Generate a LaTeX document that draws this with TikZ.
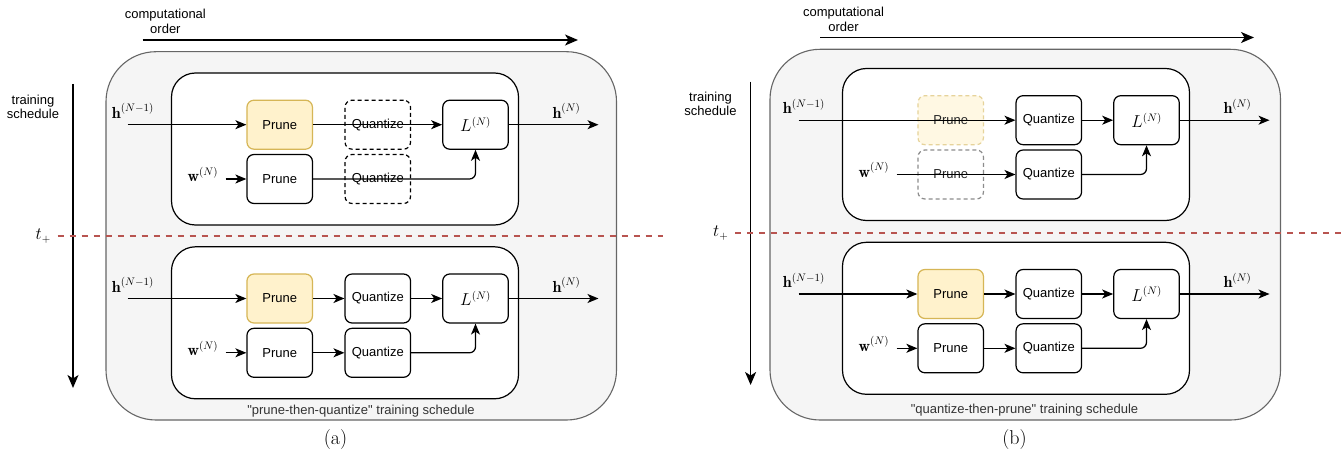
\documentclass[tikz,border=0pt]{standalone}
\usepackage{fontspec}
\newfontfamily\sfont{Liberation Sans}[Ligatures=TeXOff]
\usetikzlibrary{arrows.meta}
\definecolor{outerfill}{HTML}{F5F5F5}
\definecolor{outerdraw}{HTML}{666666}
\definecolor{yfill}{HTML}{FFF2CC}
\definecolor{ydraw}{HTML}{D6B656}
\definecolor{tred}{HTML}{B85450}
\definecolor{capgray}{HTML}{333333}
\begin{document}
\begin{tikzpicture}[x=1pt,y=-1pt,
  tipstyle/.style={-{Stealth[length=11pt,width=9pt,inset=3pt]}},
  conn/.style={line width=1.25pt, tipstyle},
  bigarrow/.style={line width=1.5pt, -{Stealth[length=13pt,width=11pt,inset=3.5pt]}},
  box/.style={font=\sfont\fontsize{13}{15}\selectfont, draw, line width=1.2pt, rounded corners=7pt, minimum width=65.5pt, minimum height=49pt, inner sep=0pt, fill=white},
  yel/.style={fill=yfill, draw=ydraw},
  qdash/.style={dash pattern=on 4pt off 3pt},
  ydash/.style={fill=yfill!55!white, draw=ydraw!60!white, dash pattern=on 4pt off 3pt, text=black!85},
  gdash/.style={draw=black!45, dash pattern=on 4pt off 3pt, text=black!85},
  lbox/.style={box, font=\fontsize{16}{19}\selectfont},
  framebox/.style={draw, line width=1.2pt, rounded corners=24pt, fill=white, minimum width=347pt, minimum height=152pt, inner sep=0pt},
  outerbox/.style={draw=outerdraw, line width=1.1pt, fill=outerfill, rounded corners=50pt, minimum width=510.5pt, inner sep=0pt},
  mlab/.style={inner sep=0pt, font=\fontsize{16}{19}\selectfont},
  slab/.style={inner sep=0pt, align=center, font=\sfont\fontsize{13}{14.5}\selectfont},
  tdash/.style={draw=tred, line width=2pt, dash pattern=on 6pt off 6pt},
  captext/.style={inner sep=0pt, font=\sfont\fontsize{13}{15}\selectfont, text=capgray},
  sublab/.style={inner sep=0pt, font=\fontsize{20}{24}\selectfont},
]
\useasboundingbox (0,0) rectangle (1343,454);

% ---------- outer panels ----------
\node[outerbox, minimum height=368.3pt] (aOut) at (361.25,235.85) {};
\node[outerbox, minimum height=370.7pt] (bOut) at (1025.25,234.65) {};

% ---------- panel (a), first block ----------
\begin{scope}[name prefix=aT-]
  \node[framebox] (frame) at (345,149) {};
  \node[box,yel] (p1) at (279.7,124.7) {Prune};
  \node[box,qdash] (q1) at (377.8,124.7) {Quantize};
  \node[lbox] (L) at (475.5,124.7) {$L^{(N)}$};
  \node[box] (p2) at (279.7,179) {Prune};
  \node[box,qdash] (q2) at (377.8,179) {Quantize};
  \coordinate (hsrc) at (127.7,124.7);
  \coordinate (hdst) at (598.5,124.7);
  \coordinate (wsrc) at (225.7,179);
  \node[mlab,anchor=base west] (hin) at (111.7,118.2) {$\mathbf{h}^{(N-1)}$};
  \node[mlab,anchor=base] (hout) at (566.5,118.2) {$\mathbf{h}^{(N)}$};
  \node[mlab,anchor=base east] (w) at (218.3,181.7) {$\mathbf{w}^{(N)}$};
  \draw[conn] (hsrc) -- (p1);
  \draw[conn] (p1) -- (L);
  \draw[conn] (L) -- (hdst);
  \draw[conn] (wsrc) -- (p2);
  \draw[conn, rounded corners=6pt] (p2.east) -- (L.south |- p2.east) -- (L.south);
\end{scope}

% ---------- panel (a), second block ----------
\begin{scope}[shift={(0,173.8)}, name prefix=aB-]
  \node[framebox] (frame) at (345,149) {};
  \node[box,yel] (p1) at (279.7,124.7) {Prune};
  \node[box] (q1) at (377.8,124.7) {Quantize};
  \node[lbox] (L) at (475.5,124.7) {$L^{(N)}$};
  \node[box] (p2) at (279.7,179) {Prune};
  \node[box] (q2) at (377.8,179) {Quantize};
  \coordinate (hsrc) at (127.7,124.7);
  \coordinate (hdst) at (598.5,124.7);
  \coordinate (wsrc) at (225.7,179);
  \node[mlab,anchor=base west] (hin) at (111.7,118.2) {$\mathbf{h}^{(N-1)}$};
  \node[mlab,anchor=base] (hout) at (566.5,118.2) {$\mathbf{h}^{(N)}$};
  \node[mlab,anchor=base east] (w) at (218.3,181.7) {$\mathbf{w}^{(N)}$};
  \draw[conn] (hsrc) -- (p1);
  \draw[conn] (p1) -- (q1);
  \draw[conn] (q1) -- (L);
  \draw[conn] (L) -- (hdst);
  \draw[conn] (wsrc) -- (p2);
  \draw[conn] (p2) -- (q2);
  \draw[conn, rounded corners=6pt] (q2.east) -- (L.south |- q2.east) -- (L.south);
\end{scope}

% ---------- panel (b), first block ----------
\begin{scope}[shift={(671,-4.5)}, name prefix=bT-]
  \node[framebox] (frame) at (345,149) {};
  \node[box,ydash] (p1) at (279.7,124.7) {Prune};
  \node[box] (q1) at (377.8,124.7) {Quantize};
  \node[lbox] (L) at (475.5,124.7) {$L^{(N)}$};
  \node[box,gdash] (p2) at (279.7,179) {Prune};
  \node[box] (q2) at (377.8,179) {Quantize};
  \coordinate (hsrc) at (127.7,124.7);
  \coordinate (hdst) at (598.5,124.7);
  \coordinate (wsrc) at (225.7,179);
  \node[mlab,anchor=base west] (hin) at (111.7,118.2) {$\mathbf{h}^{(N-1)}$};
  \node[mlab,anchor=base] (hout) at (566.5,118.2) {$\mathbf{h}^{(N)}$};
  \node[mlab,anchor=base east] (w) at (218.3,181.7) {$\mathbf{w}^{(N)}$};
  \draw[conn] (hsrc) -- (q1);
  \draw[conn] (q1) -- (L);
  \draw[conn] (L) -- (hdst);
  \draw[conn] (wsrc) -- (q2);
  \draw[conn, rounded corners=6pt] (q2.east) -- (L.south |- q2.east) -- (L.south);
\end{scope}

% ---------- panel (b), second block ----------
\begin{scope}[shift={(671,169.3)}, name prefix=bB-]
  \node[framebox] (frame) at (345,149) {};
  \node[box,yel] (p1) at (279.7,124.7) {Prune};
  \node[box] (q1) at (377.8,124.7) {Quantize};
  \node[lbox] (L) at (475.5,124.7) {$L^{(N)}$};
  \node[box] (p2) at (279.7,179) {Prune};
  \node[box] (q2) at (377.8,179) {Quantize};
  \coordinate (hsrc) at (127.7,124.7);
  \coordinate (hdst) at (598.5,124.7);
  \coordinate (wsrc) at (225.7,179);
  \node[mlab,anchor=base west] (hin) at (111.7,118.2) {$\mathbf{h}^{(N-1)}$};
  \node[mlab,anchor=base] (hout) at (566.5,118.2) {$\mathbf{h}^{(N)}$};
  \node[mlab,anchor=base east] (w) at (218.3,181.7) {$\mathbf{w}^{(N)}$};
  \draw[conn] (hsrc) -- (p1);
  \draw[conn] (p1) -- (q1);
  \draw[conn] (q1) -- (L);
  \draw[conn] (L) -- (hdst);
  \draw[conn] (wsrc) -- (p2);
  \draw[conn] (p2) -- (q2);
  \draw[conn, rounded corners=6pt] (q2.east) -- (L.south |- q2.east) -- (L.south);
\end{scope}

% ---------- axes and labels, panel (a) ----------
\node[slab] (aComp) at (165.4,21.3) {computational\\order};
\coordinate (aCs) at (142.7,40);
\coordinate (aCe) at (578,40);
\draw[bigarrow] (aCs) -- (aCe);
\node[slab] (aTrain) at (33,107) {training\\schedule};
\coordinate (aVs) at (73,84);
\coordinate (aVe) at (73,388);
\draw[bigarrow] (aVs) -- (aVe);
\node[captext] (aCap) at (361,411) {"prune-then-quantize" training schedule};
\node[sublab] (aSub) at (335.5,440) {(a)};
\coordinate (aD1) at (57.6,236);
\coordinate (aD2) at (663,236);
\draw[tdash] (aD1) -- (aD2);
\node[mlab] (aT) at (43.3,236.3) {$t_+$};

% ---------- axes and labels, panel (b) ----------
\node[slab] (bComp) at (843.6,19.5) {computational\\order};
\coordinate (bCs) at (820,37.5);
\coordinate (bCe) at (1254,37.5);
\draw[bigarrow] (bCs) -- (bCe);
\node[slab] (bTrain) at (710.5,104) {training\\schedule};
\coordinate (bVs) at (750.6,81.7);
\coordinate (bVe) at (750.6,385);
\draw[bigarrow] (bVs) -- (bVe);
\node[captext] (bCap) at (1024.5,410) {"quantize-then-prune" training schedule};
\node[sublab] (bSub) at (1014.5,440) {(b)};
\coordinate (bD1) at (735,233);
\coordinate (bD2) at (1343,233);
\draw[tdash] (bD1) -- (bD2);
\node[mlab] (bT) at (720.8,233.3) {$t_+$};
\end{tikzpicture}
\end{document}
